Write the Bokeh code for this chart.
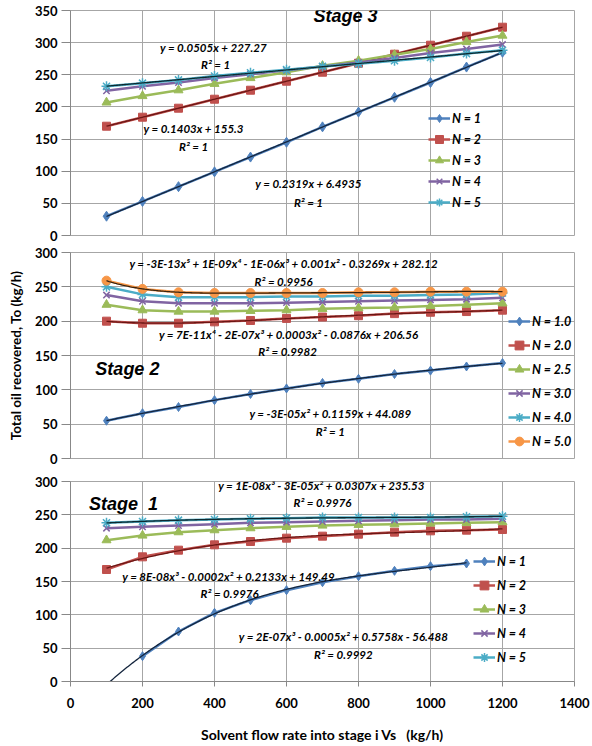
import numpy as np
from numpy.polynomial import Polynomial
from bokeh.plotting import figure
from bokeh.models import Label, Legend, LegendItem, FixedTicker, Range1d
from bokeh.layouts import column
from bokeh.embed import file_html
from bokeh.resources import INLINE

# ---------------- data ----------------
flow = [100, 200, 300, 400, 500, 600, 700, 800, 900, 1000, 1100, 1200]
flow_s1_n1 = [200, 300, 400, 500, 600, 700, 800, 900, 1000, 1100]

# Stage 3
s3_n1 = [30, 53, 76, 99, 122, 145, 169, 192, 215, 238, 262, 285]
s3_n2 = [170, 184, 198, 212, 226, 240, 254, 268, 282, 296, 310, 324]
s3_n3 = [207, 217, 226, 236, 245, 254, 264, 272, 281, 290, 301, 311]
s3_n4 = [225, 232, 238, 245, 251, 257, 263, 269, 276, 284, 290, 297]
s3_n5 = [232, 237, 242, 248, 253, 258, 263, 267, 272, 277, 283, 288]

# Stage 2
s2_n10 = [55, 66, 75, 85, 94, 102, 110, 116, 123, 128, 134, 139]
s2_n20 = [200, 197, 197, 199, 201, 204, 206, 208, 211, 213, 214, 216]
s2_n25 = [224, 216, 214, 214, 215, 216, 218, 219, 220, 222, 224, 226]
s2_n30 = [238, 229, 226, 226, 226, 227, 228, 229, 230, 231, 232, 234]
s2_n40 = [250, 239, 235, 235, 235, 236, 236, 237, 237, 238, 239, 241]
s2_n50 = [259, 247, 242, 241, 241, 241, 241, 242, 242, 243, 243, 243]

# Stage 1
s1_n1 = [38, 75, 103, 122, 137, 149, 158, 166, 173, 177]
s1_n2 = [168, 187, 197, 205, 210, 215, 218, 221, 224, 226, 227, 228]
s1_n3 = [212, 219, 224, 227, 230, 232, 234, 235, 236, 237, 238, 239]
s1_n4 = [230, 232, 234, 236, 238, 239, 240, 241, 242, 243, 243, 244]
s1_n5 = [238, 240, 242, 243, 244, 245, 246, 246, 246, 246, 247, 248]

x_ticks = [0, 200, 400, 600, 800, 1000, 1200, 1400]

BLUE, RED, GREEN, PURPLE, CYAN, ORANGE = "#4F81BD", "#C0504D", "#9BBB59", "#8064A2", "#4BACC6", "#F79646"
GRID = "#a6a6a6"
TICK_FONT = "Lato"
EQ_FONT = "Lato"
TITLE_FONT = "Liberation Sans"
EQ_SIZE = "11.5px"


def make_panel(height, top, bottom, ymax, show_x):
    p = figure(width=592, height=height, output_backend="svg", toolbar_location=None,
               x_range=Range1d(0, 1400), y_range=Range1d(0, ymax),
               min_border_left=70, min_border_right=18,
               min_border_top=top, min_border_bottom=bottom)
    p.outline_line_color = GRID
    p.background_fill_color = "white"
    p.border_fill_color = "white"
    xt = FixedTicker(ticks=x_ticks)
    yt = FixedTicker(ticks=list(range(0, ymax + 1, 50)))
    p.xaxis.ticker = xt
    p.yaxis.ticker = yt
    p.xgrid.ticker = xt
    p.ygrid.ticker = yt
    p.xgrid.grid_line_color = GRID
    p.ygrid.grid_line_color = GRID
    for ax in (p.xaxis, p.yaxis):
        ax.axis_line_color = "#888888"
        ax.major_tick_line_color = "#888888"
        ax.minor_tick_line_color = None
        ax.major_tick_in = 0
        ax.major_label_text_font = TICK_FONT
        ax.major_label_text_font_style = "bold"
        ax.major_label_text_font_size = "13px"
        ax.major_label_text_color = "black"
    p.yaxis.major_tick_out = 9
    p.yaxis.major_label_standoff = 4
    p.xaxis.major_tick_out = 5
    p.xaxis.major_label_standoff = 11
    if not show_x:
        p.xaxis.visible = False
    return p


def add_series(p, xs, ys, color, marker, size, trend_deg=None, trend_color="black", trend_start=None):
    line = p.line(xs, ys, line_color=color, line_width=2.5)
    if marker in ("x", "asterisk"):
        mk = p.scatter(xs, ys, marker=marker, size=size, line_color=color, line_width=1.5, fill_color=None)
    else:
        mk = p.scatter(xs, ys, marker=marker, size=size, line_color=color, fill_color=color)
    if trend_deg is not None:
        poly = Polynomial.fit(np.array(xs, float), np.array(ys, float), trend_deg)
        x0 = trend_start if trend_start is not None else xs[0]
        xd = np.linspace(x0, xs[-1], 300)
        p.line(xd, poly(xd), line_color=trend_color, line_width=1.3)
    return [line, mk]


def add_text(p, items, size=EQ_SIZE, font=EQ_FONT):
    for txt, x, y in items:
        p.add_layout(Label(x=x, y=y, text=txt, text_align="center", text_baseline="middle",
                           text_font=font, text_font_style="bold italic", text_font_size=size,
                           text_color="black"))


def add_legend(p, entries, loc, h, spacing):
    lg = Legend(items=[LegendItem(label=l, renderers=r) for l, r in entries],
                location=loc, padding=0, margin=0, spacing=spacing,
                glyph_width=22, glyph_height=h, label_height=h, label_standoff=2,
                background_fill_alpha=0, border_line_alpha=0,
                label_text_font=EQ_FONT, label_text_font_style="bold italic",
                label_text_font_size="12.5px", label_text_color="black")
    p.add_layout(lg, "center")


# ---------------- Stage 3 ----------------
p3 = make_panel(244, 10, 9, 350, False)
r1 = add_series(p3, flow, s3_n1, BLUE, "diamond", 10, 1, "#14253d")
r2 = add_series(p3, flow, s3_n2, RED, "square", 8, 1, "#6b1614")
r3 = add_series(p3, flow, s3_n3, GREEN, "triangle", 9)
r4 = add_series(p3, flow, s3_n4, PURPLE, "x", 9)
r5 = add_series(p3, flow, s3_n5, CYAN, "asterisk", 10, 1, "#0d2a30")
add_legend(p3, [("N = 1", r1), ("N = 2", r2), ("N = 3", r3), ("N = 4", r4), ("N = 5", r5)], (358, 23), 20, 1)
add_text(p3, [("Stage 3", 764, 342)], size="18px", font=TITLE_FONT)
add_text(p3, [
    ("y = 0.0505x + 227.27", 397, 292.4), ("R² = 1", 403, 266),
    ("y = 0.1403x + 155.3", 342, 166.5), ("R² = 1", 342, 138.5),
    ("y = 0.2319x + 6.4935", 661, 81), ("R² = 1", 661, 51.3),
])

# ---------------- Stage 2 ----------------
p2 = make_panel(224, 8, 10, 300, False)
q1 = add_series(p2, flow, s2_n10, BLUE, "diamond", 9, 2, "#14253d")
q2 = add_series(p2, flow, s2_n20, RED, "square", 8, 4, "#6b1614")
q3 = add_series(p2, flow, s2_n25, GREEN, "triangle", 9)
q4 = add_series(p2, flow, s2_n30, PURPLE, "x", 9)
q5 = add_series(p2, flow, s2_n40, CYAN, "asterisk", 10)
q6 = add_series(p2, flow, s2_n50, ORANGE, "circle", 9, 5, "#3a2410")
add_legend(p2, [("N = 1.0", q1), ("N = 2.0", q2), ("N = 2.5", q3), ("N = 3.0", q4),
                ("N = 4.0", q5), ("N = 5.0", q6)], (438, 5), 24, 0)
add_text(p2, [("Stage 2", 158, 131)], size="18px", font=TITLE_FONT)
add_text(p2, [
    ("y = -3E-13x⁵ + 1E-09x⁴ - 1E-06x³ + 0.001x² - 0.3269x + 282.12", 592, 284), ("R² = 0.9956", 592, 257.8),
    ("y = 7E-11x⁴ - 2E-07x³ + 0.0003x² - 0.0876x + 206.56", 606, 180.6), ("R² = 0.9982", 603, 155.8),
    ("y = -3E-05x² + 0.1159x + 44.089", 722, 65.5), ("R² = 1", 722, 39.3),
])
p2.yaxis.axis_label = "Total oil recovered, To (kg/h)"
p2.yaxis.axis_label_text_font = TICK_FONT
p2.yaxis.axis_label_text_font_style = "bold"
p2.yaxis.axis_label_text_font_size = "13.5px"
p2.yaxis.axis_label_text_color = "black"
p2.yaxis.axis_label_standoff = 8

# ---------------- Stage 1 ----------------
p1 = make_panel(278, 13, 65, 300, True)
w1 = add_series(p1, flow_s1_n1, s1_n1, BLUE, "diamond", 9, 3, "#14253d", trend_start=100)
w2 = add_series(p1, flow, s1_n2, RED, "square", 8, 3, "#6b1614")
w3 = add_series(p1, flow, s1_n3, GREEN, "triangle", 9)
w4 = add_series(p1, flow, s1_n4, PURPLE, "x", 9)
w5 = add_series(p1, flow, s1_n5, CYAN, "asterisk", 10, 3, "#0d2a30")
add_legend(p1, [("N = 1", w1), ("N = 2", w2), ("N = 3", w3), ("N = 4", w4), ("N = 5", w5)], (403, 12), 24, 0)
add_text(p1, [("Stage\u00a0\u00a01", 147, 267)], size="18px", font=TITLE_FONT)
add_text(p1, [
    ("y = 1E-08x³ - 3E-05x² + 0.0307x + 235.53", 697, 294), ("R² = 0.9976", 700, 268.5),
    ("y = 8E-08x³ - 0.0002x² + 0.2133x + 149.49", 439, 157.5), ("R² = 0.9976", 442, 132),
    ("y = 2E-07x³ - 0.0005x² + 0.5758x - 56.488", 758, 67.5), ("R² = 0.9992", 758, 40.5),
])
p1.xaxis.axis_label = "Solvent flow rate into stage i Vs\u00a0\u00a0\u00a0(kg/h)"
p1.xaxis.axis_label_text_font = TICK_FONT
p1.xaxis.axis_label_text_font_style = "bold"
p1.xaxis.axis_label_text_font_size = "14px"
p1.xaxis.axis_label_text_color = "black"
p1.xaxis.axis_label_standoff = 15

layout = column(p3, p2, p1, spacing=0)
open("out.html", "w").write(file_html(layout, INLINE))
